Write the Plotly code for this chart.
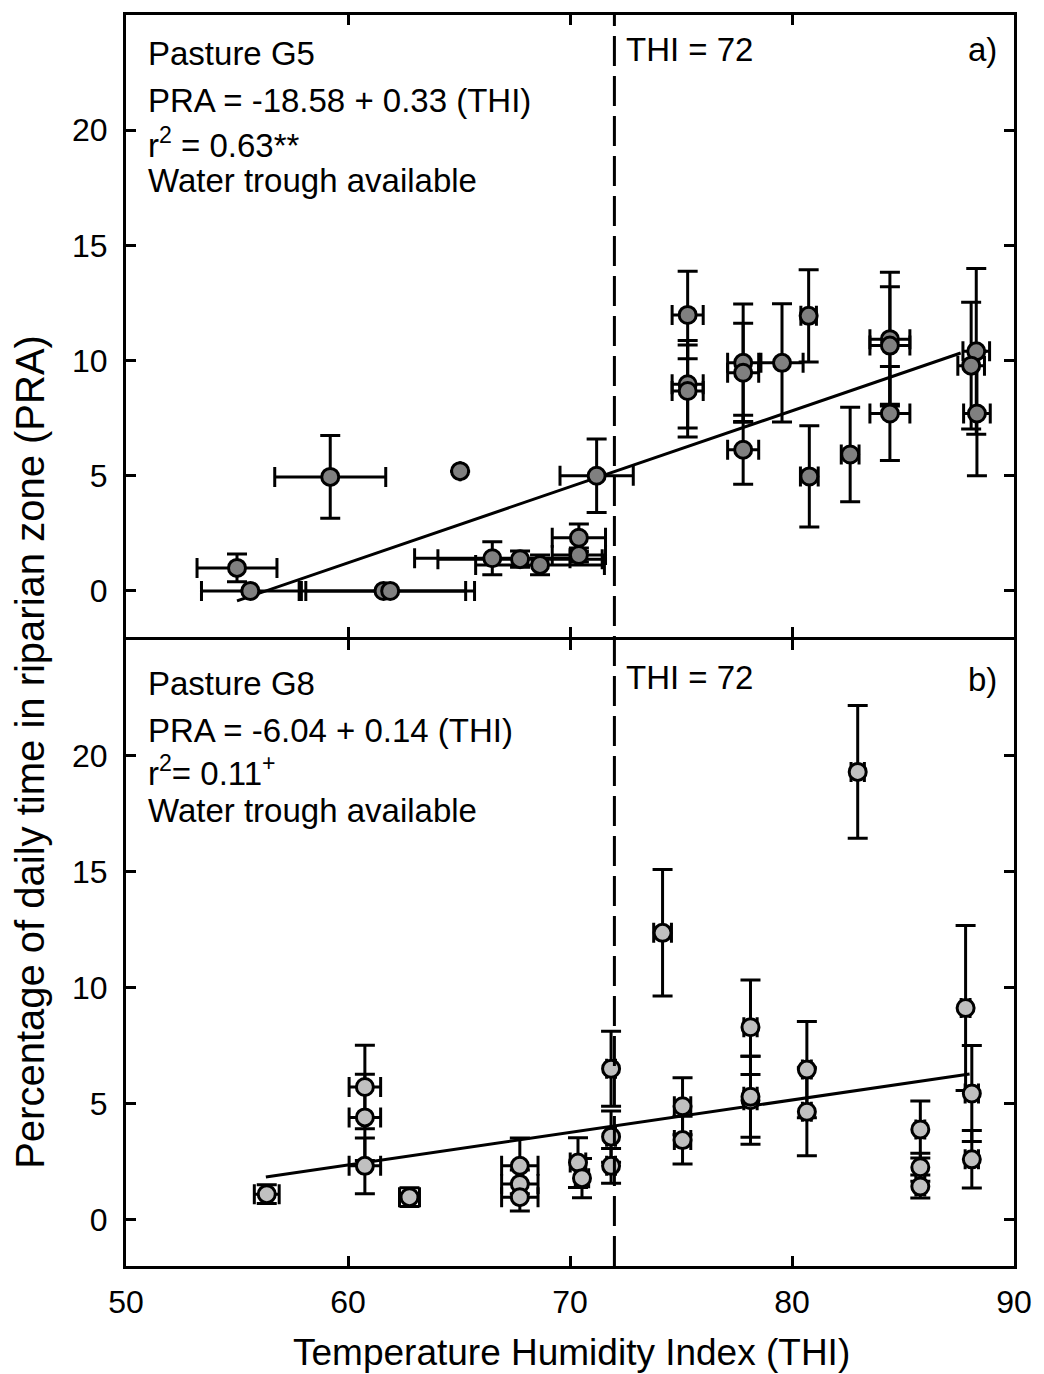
import plotly.graph_objects as go

# ---------------- data ----------------
# Panel a) Pasture G5
a_thi = [55.0, 55.6, 61.6, 61.9, 59.2, 65.05, 71.2, 66.5, 67.75, 68.65, 70.4, 70.4,
         75.3, 75.3, 75.3, 77.8, 77.8, 77.8, 79.55, 80.75, 80.78, 82.62,
         84.41, 84.41, 84.41, 88.3, 88.07, 88.33]
a_pra = [1.0, 0.0, 0.0, 0.0, 4.95, 5.2, 5.0, 1.42, 1.38, 1.13, 2.31, 1.56,
         11.98, 8.97, 8.68, 9.9, 9.47, 6.13, 9.9, 11.94, 4.97, 5.92,
         10.93, 10.65, 7.7, 10.4, 9.78, 7.7]
a_thi_err = [1.8, 2.2, 3.7, 3.8, 2.5, 0.0, 1.65, 3.5, 3.7, 2.9, 1.2, 1.2,
             0.7, 0.7, 0.7, 0.7, 0.7, 0.7, 0.95, 0.35, 0.4, 0.4,
             0.9, 0.9, 0.9, 0.6, 0.6, 0.6]
a_pra_err = [0.6, 0.0, 0.0, 0.0, 1.8, 0.0, 1.6, 0.72, 0.35, 0.43, 0.6, 0.3,
             1.9, 1.9, 2.0, 2.55, 2.15, 1.5, 2.57, 2.0, 2.2, 2.05,
             2.9, 2.55, 2.04, 3.6, 2.75, 2.7]
a_intercept, a_slope = -18.58, 0.33
a_fit_range = [55.0, 87.6]

# Panel b) Pasture G8
b_thi = [56.34, 62.77, 60.76, 60.76, 60.76, 67.74, 67.74, 67.74, 70.36, 70.54,
         71.85, 71.85, 71.85, 74.17, 82.96, 75.07, 75.07, 78.13, 78.13, 78.13,
         80.67, 80.67, 85.78, 85.78, 85.78, 87.82, 88.1, 88.1]
b_pra = [1.1, 0.97, 5.72, 4.41, 2.32, 2.32, 1.54, 0.97, 2.46, 1.79,
         6.51, 3.58, 2.32, 12.37, 19.31, 4.89, 3.43, 8.3, 5.15, 5.3,
         6.47, 4.65, 3.89, 2.26, 1.43, 9.13, 5.44, 2.6]
b_thi_err = [0.56, 0.45, 0.71, 0.71, 0.71, 0.82, 0.82, 0.82, 0.35, 0.3,
             0.2, 0.2, 0.2, 0.4, 0.3, 0.37, 0.37, 0.3, 0.3, 0.3,
             0.2, 0.2, 0.2, 0.2, 0.2, 0.2, 0.3, 0.3]
b_pra_err = [0.4, 0.4, 1.8, 1.86, 1.2, 1.2, 0.6, 0.6, 1.07, 0.85,
             1.62, 1.1, 0.75, 2.73, 2.86, 1.23, 1.03, 2.04, 1.9, 1.75,
             2.08, 1.9, 1.23, 0.6, 0.5, 3.56, 2.07, 1.24]
b_intercept, b_slope = -6.04, 0.14
b_fit_range = [56.3, 88.0]

thi_threshold = 72
x_ticks = [50, 60, 70, 80, 90]
y_ticks = [0, 5, 10, 15, 20]

# ---------------- layout geometry ----------------
W, H = 1044, 1374
L, R, T, B = 126, 1018, 14, 1266
FONT = "Liberation Sans, Arial, sans-serif"


def pxx(px):
    return (px - L) / (R - L)


def pxy(py):
    return (B - py) / (B - T)


fig = go.Figure()

# regression lines
for xr, b0, b1, ya in [(a_fit_range, a_intercept, a_slope, "y2"),
                        (b_fit_range, b_intercept, b_slope, "y")]:
    fig.add_trace(go.Scatter(
        x=xr, y=[b0 + b1 * v for v in xr], mode="lines",
        line=dict(color="black", width=3), xaxis="x" if ya == "y" else "x2",
        yaxis=ya, showlegend=False, hoverinfo="skip"))

# points with error bars
for xs, ys, xe, ye, fill, ya in [(a_thi, a_pra, a_thi_err, a_pra_err, "#808080", "y2"),
                                 (b_thi, b_pra, b_thi_err, b_pra_err, "#c0c0c0", "y")]:
    fig.add_trace(go.Scatter(
        x=xs, y=ys, mode="markers",
        marker=dict(size=17, color=fill, line=dict(color="black", width=3)),
        error_x=dict(type="data", array=xe, visible=True, color="black",
                     thickness=3, width=10),
        error_y=dict(type="data", array=ye, visible=True, color="black",
                     thickness=3, width=10),
        xaxis="x" if ya == "y" else "x2", yaxis=ya, showlegend=False))

# threshold dashed line across both panels
fig.add_shape(type="line", xref="x", yref="paper", x0=thi_threshold, x1=thi_threshold,
              y0=0, y1=1, line=dict(color="black", width=3, dash="30px,10px"))

axis_common = dict(showline=True, linecolor="black", linewidth=3, mirror="ticks",
                   ticks="inside", ticklen=10, tickwidth=3, tickcolor="black",
                   showgrid=False, zeroline=False,
                   tickfont=dict(family=FONT, size=32, color="black"))

fig.update_layout(
    width=W, height=H,
    margin=dict(l=L, r=W - R, t=T, b=H - B),
    paper_bgcolor="white", plot_bgcolor="white",
    font=dict(family=FONT, color="black"),
    xaxis=dict(range=[50, 90], tickvals=x_ticks, anchor="y",
               ticklabelstandoff=6, **axis_common),
    xaxis2=dict(range=[50, 90], tickvals=x_ticks, anchor="y2", matches="x",
                showticklabels=False, **axis_common),
    yaxis=dict(range=[-2, 25], tickvals=y_ticks, domain=[0, pxy(639.5)], anchor="x",
               ticklabelstandoff=9, **axis_common),
    yaxis2=dict(range=[-2, 25], tickvals=y_ticks, domain=[pxy(636.5), 1], anchor="x2",
                ticklabelstandoff=9, **axis_common),
)

ann_font = dict(family=FONT, size=33, color="black")
texts = [
    ("Pasture G5", 146, 53, "left"),
    ("PRA = -18.58 + 0.33 (THI)", 146, 100, "left"),
    ("r<sup>2</sup> = 0.63**", 146, 142, "left"),
    ("Water trough available", 146, 180, "left"),
    ("THI = 72", 626, 49, "left"),
    ("a)", 1003, 49, "right"),
    ("Pasture G8", 146, 683, "left"),
    ("PRA = -6.04 + 0.14 (THI)", 146, 730, "left"),
    ("r<sup>2</sup>= 0.11<sup>+</sup>", 146, 771, "left"),
    ("Water trough available", 146, 810, "left"),
    ("THI = 72", 626, 677, "left"),
    ("b)", 1003, 679, "right"),
]
for txt, px, py, anc in texts:
    fig.add_annotation(text=txt, x=pxx(px), y=pxy(py), xref="paper", yref="paper",
                       xanchor=anc, yanchor="middle", showarrow=False, font=ann_font)

# axis titles
fig.add_annotation(text="Temperature Humidity Index (THI)", x=pxx(574), y=pxy(1353),
                   xref="paper", yref="paper", xanchor="center", yanchor="middle",
                   showarrow=False, font=dict(family=FONT, size=37, color="black"))
fig.add_annotation(text="Percentage of daily time in riparian zone (PRA)", x=pxx(30),
                   y=pxy(751), xref="paper", yref="paper", xanchor="center",
                   yanchor="middle", textangle=-90, showarrow=False,
                   font=dict(family=FONT, size=40, color="black"))

fig.write_html("out.html", config={"displayModeBar": False},
               post_script="document.body.style.margin='0';document.body.style.padding='0';")
